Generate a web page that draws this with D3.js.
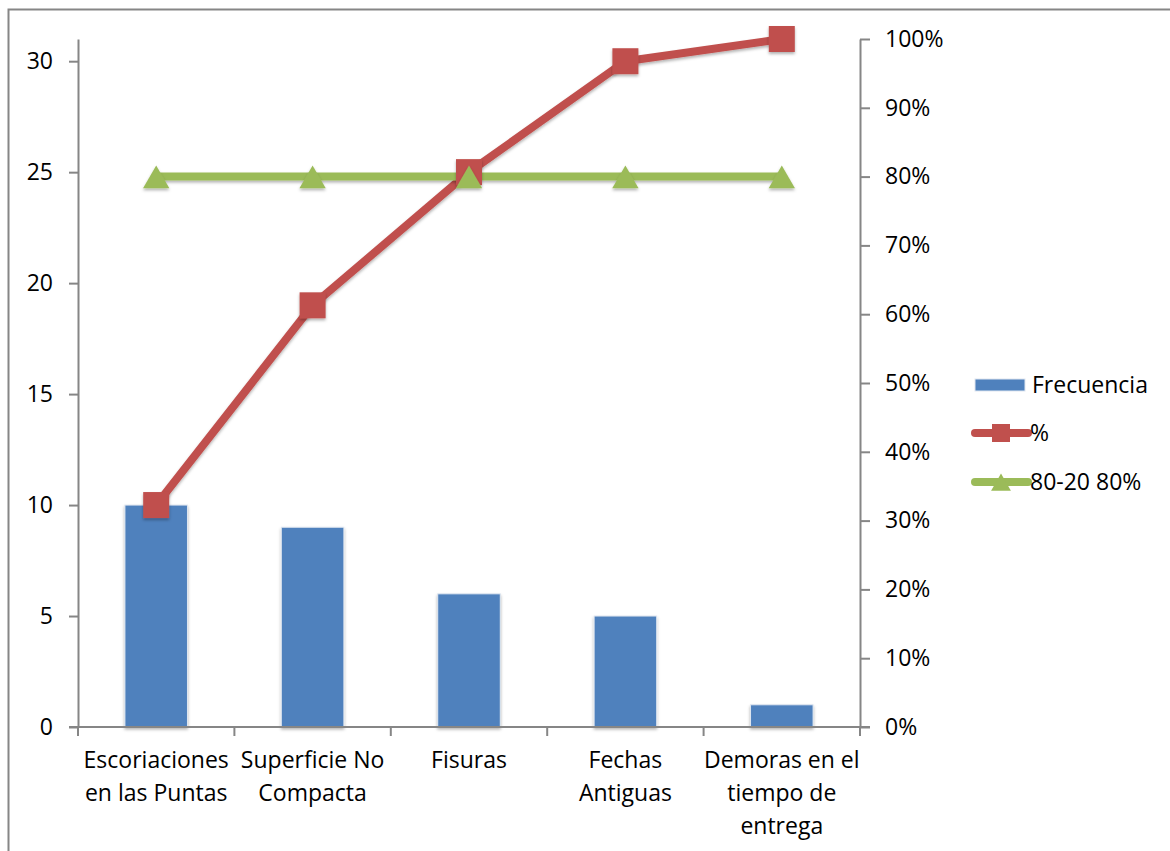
<!DOCTYPE html>
<html>
<head>
<meta charset="utf-8">
<script src="https://cdn.jsdelivr.net/npm/d3@7"></script>
<style>
  html, body { margin: 0; padding: 0; background: #fff; }
  svg { display: block; font-family: "Open Sans", Lato, sans-serif; }
</style>
</head>
<body>
<svg id="chart" width="1170" height="851"></svg>
<script>
// Pareto data: defect categories and their frequencies
const categories = [
  ["Escoriaciones", "en las Puntas"],
  ["Superficie No", "Compacta"],
  ["Fisuras"],
  ["Fechas", "Antiguas"],
  ["Demoras en el", "tiempo de", "entrega"]
];
const frequencies = [10, 9, 6, 5, 1];
const cumulativePct = [0.3226, 0.6129, 0.8065, 0.9677, 1.0];
const thresholdPct = [0.8, 0.8, 0.8, 0.8, 0.8];
const leftTicks = [0, 5, 10, 15, 20, 25, 30];
const rightTicks = [0, 0.1, 0.2, 0.3, 0.4, 0.5, 0.6, 0.7, 0.8, 0.9, 1.0];
const legendLabels = ["Frecuencia", "%", "80-20 80%"];

const COL_BAR = "#4F81BD", COL_PCT = "#C0504D", COL_80 = "#9BBB59", COL_AXIS = "#868686";
const FONT_SIZE = "23px";

const svg = d3.select("#chart");
const plot = { left: 78, right: 860, top: 39, bottom: 727 };
const total = d3.sum(frequencies);

const defs = svg.append("defs");
const sh = defs.append("filter").attr("id", "shadow")
  .attr("filterUnits", "userSpaceOnUse")
  .attr("x", -1200).attr("y", -900).attr("width", 2400).attr("height", 1800);
sh.append("feDropShadow").attr("dx", 0).attr("dy", 2).attr("stdDeviation", 1.6)
  .attr("flood-color", "#000").attr("flood-opacity", 0.3);

// chart frame
svg.append("rect").attr("x", 8.5).attr("y", 9.5).attr("width", 1170).attr("height", 900)
  .attr("fill", "none").attr("stroke", COL_AXIS).attr("stroke-width", 2);

const idx = d3.range(categories.length);
const x = d3.scaleBand().domain(idx).range([plot.left, plot.right]).padding(0);
const yL = d3.scaleLinear().domain([0, total]).range([plot.bottom, plot.top]);
const yR = d3.scaleLinear().domain([0, 1]).range([plot.bottom, plot.top]);
const cx = i => x(i) + x.bandwidth() / 2;

// bars
const barW = x.bandwidth() * 0.4;
svg.append("g").selectAll("rect").data(frequencies).join("rect")
  .attr("x", (d, i) => cx(i) - barW / 2)
  .attr("y", d => yL(d))
  .attr("width", barW)
  .attr("height", d => yL(0) - yL(d))
  .attr("fill", COL_BAR)
  .attr("stroke", "#dfe6f0").attr("stroke-width", 1)
  .attr("filter", "url(#shadow)");

// axes
const axisStyle = g => {
  g.selectAll(".domain").attr("stroke", COL_AXIS).attr("stroke-width", 2);
  g.selectAll(".tick line").attr("stroke", COL_AXIS).attr("stroke-width", 2);
  g.selectAll(".tick text").attr("fill", "#000").style("font-size", FONT_SIZE)
    .style("font-family", "'Open Sans', Lato, sans-serif");
};

svg.append("g").attr("transform", `translate(${plot.left},0)`)
  .call(d3.axisLeft(yL).tickValues(leftTicks).tickSize(9).tickSizeOuter(0).tickPadding(16))
  .call(axisStyle);

svg.append("g").attr("transform", `translate(${plot.right},0)`)
  .call(d3.axisRight(yR).tickValues(rightTicks).tickSize(10).tickSizeOuter(0).tickPadding(15)
    .tickFormat(d3.format(".0%")))
  .call(axisStyle);

// category axis: ticks at category boundaries
const xAxis = svg.append("g").attr("transform", `translate(0,${plot.bottom})`);
const bounds = d3.range(categories.length + 1).map(i => plot.left + i * x.bandwidth());
xAxis.append("line").attr("x1", plot.left - 9).attr("x2", plot.right + 10)
  .attr("y1", 0).attr("y2", 0).attr("stroke", COL_AXIS).attr("stroke-width", 2);
xAxis.selectAll("line.tk").data(bounds).join("line").attr("class", "tk")
  .attr("x1", d => d).attr("x2", d => d).attr("y1", 0).attr("y2", 9)
  .attr("stroke", COL_AXIS).attr("stroke-width", 2);
xAxis.selectAll("text").data(categories).join("text")
  .attr("text-anchor", "middle")
  .attr("transform", (d, i) => `translate(${cx(i)},0)`)
  .style("font-size", FONT_SIZE)
  .each(function(lines) {
    d3.select(this).selectAll("tspan").data(lines).join("tspan")
      .attr("x", 0).attr("y", (l, j) => 41 + j * 33).text(l => l);
  });

// cumulative % line
const pctLine = d3.line().x((d, i) => cx(i)).y(d => yR(d));
svg.append("path").datum(cumulativePct).attr("d", pctLine)
  .attr("fill", "none").attr("stroke", COL_PCT).attr("stroke-width", 8)
  .attr("stroke-linejoin", "round").attr("filter", "url(#shadow)");

// 80% threshold line
svg.append("path").datum(thresholdPct).attr("d", pctLine)
  .attr("fill", "none").attr("stroke", COL_80).attr("stroke-width", 8)
  .attr("filter", "url(#shadow)");

const sq = 26;
svg.append("g").selectAll("rect").data(cumulativePct).join("rect")
  .attr("x", (d, i) => cx(i) - sq / 2).attr("y", d => yR(d) - sq / 2)
  .attr("width", sq).attr("height", sq).attr("fill", COL_PCT)
  .attr("filter", "url(#shadow)");

// triangle markers, nudged so their bounding box is centred on the point
const tri = d3.symbol().type(d3.symbolTriangle).size(300);
const triShift = 4;
svg.append("g").selectAll("path").data(thresholdPct).join("path")
  .attr("d", tri).attr("transform", (d, i) => `translate(${cx(i)},${yR(d) + triShift})`)
  .attr("fill", COL_80).attr("filter", "url(#shadow)");

// legend
const lg = svg.append("g").attr("transform", "translate(975,0)");
const rowsY = [385, 433, 482];
lg.append("rect").attr("x", 0).attr("y", rowsY[0] - 6).attr("width", 50).attr("height", 12)
  .attr("fill", COL_BAR).attr("stroke", "#dfe6f0");
lg.append("line").attr("x1", 0).attr("x2", 53).attr("y1", rowsY[1]).attr("y2", rowsY[1])
  .attr("stroke", COL_PCT).attr("stroke-width", 8).attr("stroke-linecap", "round");
lg.append("rect").attr("x", 26 - 9).attr("y", rowsY[1] - 9).attr("width", 18).attr("height", 18)
  .attr("fill", COL_PCT);
lg.append("line").attr("x1", 0).attr("x2", 53).attr("y1", rowsY[2]).attr("y2", rowsY[2])
  .attr("stroke", COL_80).attr("stroke-width", 8).attr("stroke-linecap", "round");
lg.append("path").attr("d", d3.symbol().type(d3.symbolTriangle).size(170))
  .attr("transform", `translate(26,${rowsY[2] + 3})`).attr("fill", COL_80);
lg.selectAll("text").data(legendLabels).join("text")
  .attr("x", (d, i) => i === 0 ? 57 : 55).attr("y", (d, i) => rowsY[i] + 8)
  .style("font-size", FONT_SIZE).text(d => d);
</script>
</body>
</html>
